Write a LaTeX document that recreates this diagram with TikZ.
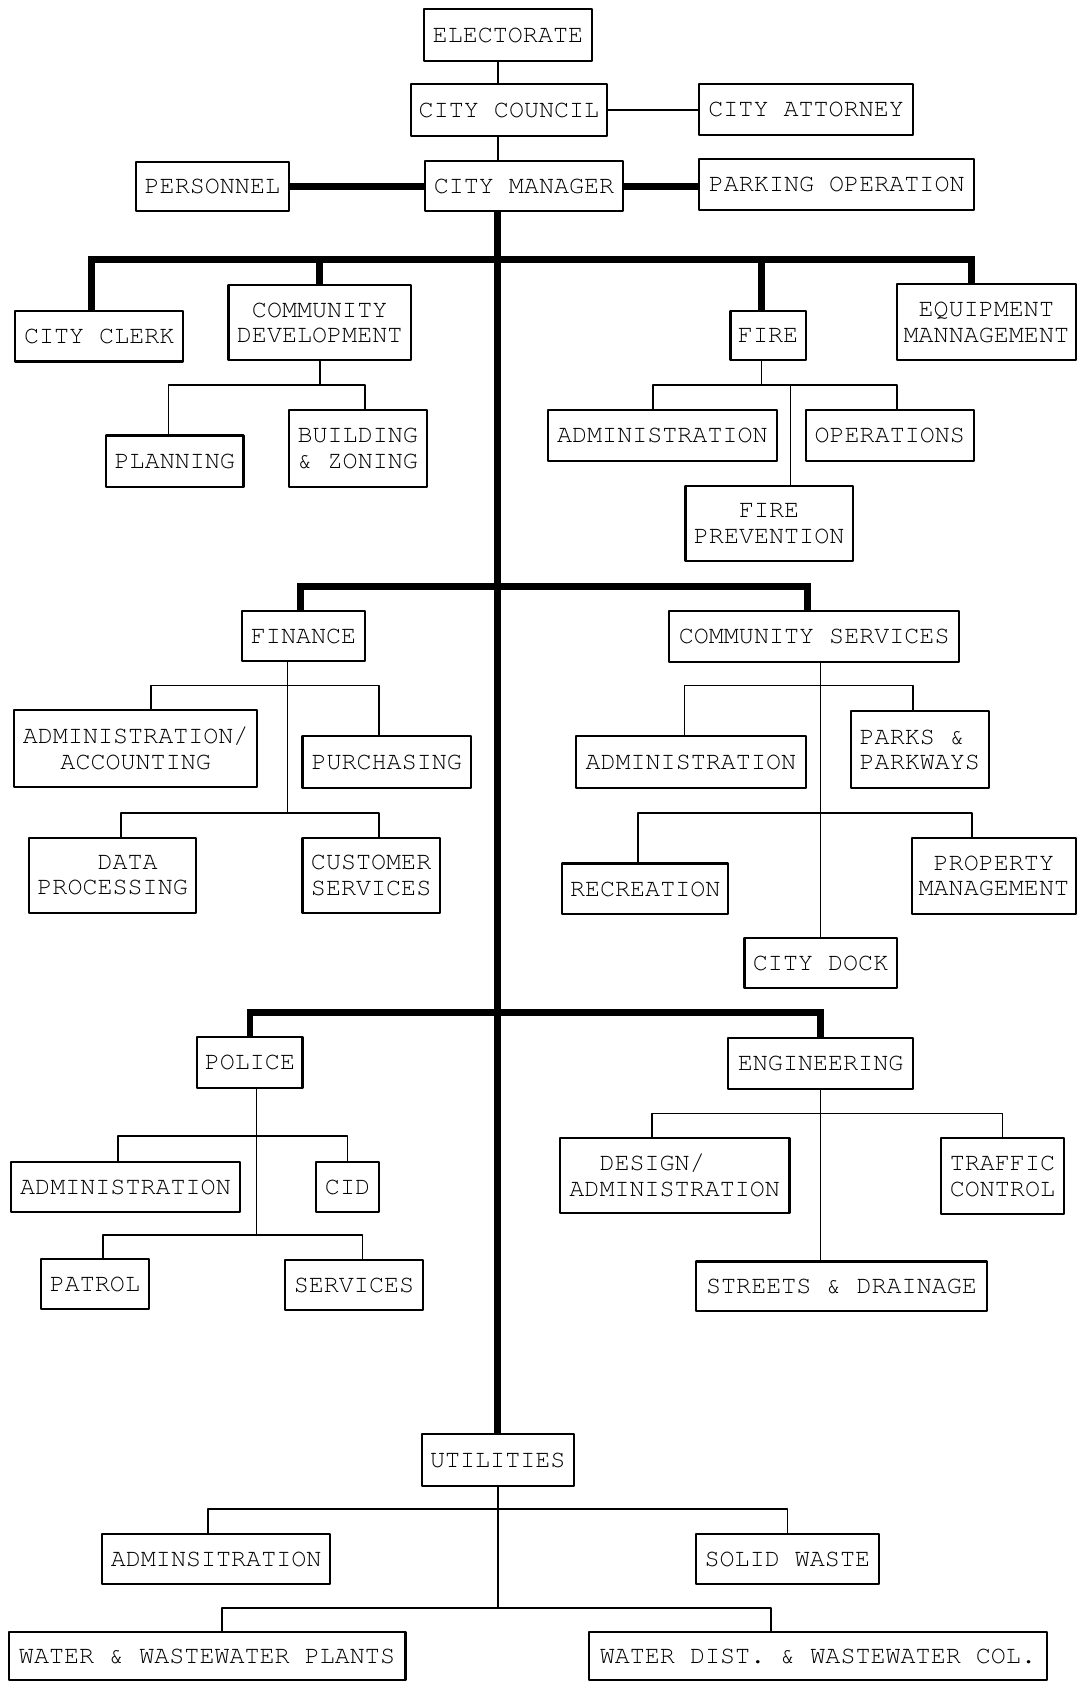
\documentclass[tikz,border=0pt]{standalone}
\usepackage[T1]{fontenc}
\usepackage{courier}

\begin{document}
\begin{tikzpicture}[line cap=round,line join=round,x=1.0cm,y=1.0cm,
  box/.style={draw,line width=1.1pt,inner sep=1pt,align=center,font=\ttfamily\fontsize{13.3}{13.6}\selectfont},
  wh/.style 2 args={minimum width=#1cm,minimum height=#2cm},
  link/.style={line width=0.9pt},
  trunk/.style={line width=3.6pt,line cap=butt,line join=miter}]
      \useasboundingbox (0,0) rectangle (20.1,-31.36);
      \node[box,wh={3.14}{0.98}] (elec) at (9.47,-0.65) {ELECTORATE};
      \node[box,wh={3.66}{0.98}] (council) at (9.49,-2.05) {CITY COUNCIL};
      \node[box,wh={3.98}{0.96}] (atty) at (15.03,-2.04) {CITY ATTORNEY};
      \node[box,wh={2.84}{0.92}] (pers) at (3.96,-3.48) {PERSONNEL};
      \node[box,wh={3.70}{0.94}] (mgr) at (9.77,-3.47) {CITY MANAGER};
      \node[box,wh={5.12}{0.96}] (park) at (15.60,-3.44) {PARKING OPERATION};
      \node[box,wh={3.14}{0.94}] (clerk) at (1.85,-6.27) {CITY CLERK};
      \node[box,wh={3.40}{1.40}] (cdev) at (5.96,-6.02) {COMMUNITY\\DEVELOPMENT};
      \node[box,wh={1.40}{0.92}] (fire) at (14.32,-6.26) {FIRE};
      \node[box,wh={3.34}{1.42}] (equip) at (18.39,-6.01) {EQUIPMENT\\MANNAGEMENT};
      \node[box,wh={2.56}{0.96}] (plan) at (3.26,-8.60) {PLANNING};
      \node[box,wh={2.58}{1.44}] (bldg) at (6.67,-8.36) {BUILDING\\\& ZONING};
      \node[box,wh={4.26}{0.96}] (fadm) at (12.35,-8.12) {ADMINISTRATION};
      \node[box,wh={3.14}{0.96}] (fops) at (16.59,-8.12) {OPERATIONS};
      \node[box,wh={3.12}{1.40}] (fprev) at (14.34,-9.76) {FIRE\\PREVENTION};
      \node[box,wh={2.28}{0.92}] (fin) at (5.66,-11.86) {FINANCE};
      \node[box,wh={5.40}{0.94}] (cserv) at (15.18,-11.87) {COMMUNITY SERVICES};
      \node[box,wh={4.54}{1.44}] (facc) at (2.53,-13.96) {ADMINISTRATION/\\ACCOUNTING};
      \node[box,wh={3.14}{0.98}] (purch) at (7.21,-14.21) {PURCHASING};
      \node[box,wh={3.12}{1.40}] (data) at (2.10,-16.32) {\phantom{XX}DATA\\PROCESSING};
      \node[box,wh={2.56}{1.40}] (cust) at (6.92,-16.32) {CUSTOMER\\SERVICES};
      \node[box,wh={4.28}{0.98}] (csadm) at (12.88,-14.21) {ADMINISTRATION};
      \node[box,wh={2.58}{1.44},align=left] (parks) at (17.15,-13.98) {PARKS \&\\PARKWAYS};
      \node[box,wh={3.10}{0.94}] (rec) at (12.03,-16.57) {RECREATION};
      \node[box,wh={3.06}{1.42}] (prop) at (18.53,-16.33) {PROPERTY\\MANAGEMENT};
      \node[box,wh={2.84}{0.94}] (dock) at (15.30,-17.95) {CITY DOCK};
      \node[box,wh={1.96}{0.94}] (pol) at (4.66,-19.81) {POLICE};
      \node[box,wh={3.44}{0.94}] (eng) at (15.30,-19.83) {ENGINEERING};
      \node[box,wh={4.28}{0.94}] (padm) at (2.34,-22.13) {ADMINISTRATION};
      \node[box,wh={1.16}{0.94}] (cid) at (6.48,-22.13) {CID};
      \node[box,wh={2.02}{0.92}] (patrol) at (1.77,-23.94) {PATROL};
      \node[box,wh={2.56}{0.92}] (psvc) at (6.60,-23.96) {SERVICES};
      \node[box,wh={4.28}{1.40}] (design) at (12.58,-21.92) {DESIGN/\phantom{XXX}\\ADMINISTRATION};
      \node[box,wh={2.30}{1.42}] (traffic) at (18.69,-21.93) {TRAFFIC\\CONTROL};
      \node[box,wh={5.42}{0.92}] (streets) at (15.69,-23.98) {STREETS \& DRAINAGE};
      \node[box,wh={2.84}{0.96}] (util) at (9.28,-27.22) {UTILITIES};
      \node[box,wh={4.26}{0.94}] (uadm) at (4.03,-29.07) {ADMINSITRATION};
      \node[box,wh={3.40}{0.94}] (waste) at (14.68,-29.07) {SOLID WASTE};
      \node[box,wh={7.40}{0.90}] (plants) at (3.86,-30.87) {WATER \& WASTEWATER PLANTS};
      \node[box,wh={8.54}{0.90}] (dist) at (15.25,-30.87) {WATER DIST. \& WASTEWATER COL.};
      \coordinate (b1) at (0,-4.84);
      \coordinate (b2) at (0,-10.94);
      \coordinate (b3) at (0,-18.88);
      \coordinate (bSub1) at (0,-7.18);
      \coordinate (bSub2a) at (0,-12.78);
      \coordinate (bSub2b) at (0,-15.16);
      \coordinate (bEng) at (0,-20.76);
      \coordinate (bPola) at (0,-21.18);
      \coordinate (bPolb) at (0,-23.03);
      \coordinate (bUtila) at (0,-28.14);
      \coordinate (bUtilb) at (0,-29.98);
      \draw[link] (elec.south -| util.north) -- (council.north -| util.north);
      \draw[link] (council.south -| util.north) -- (mgr.north -| util.north);
      \draw[link] (council.east) -- (council.east -| atty.west);
      \draw[trunk] (pers.east) -- (pers.east -| mgr.west);
      \draw[trunk] (mgr.east) -- (mgr.east -| park.west);
      \draw[trunk] (mgr.south -| util.north) -- (util.north);
      \draw[trunk] ([xshift=-0.15cm]clerk.north) |- ([xshift=-0.27cm]equip.north |- b1) -- ([xshift=-0.27cm]equip.north);
      \draw[trunk] (cdev.north) -- (cdev.north |- b1);
      \draw[trunk] ([xshift=-0.12cm]fire.north) -- ([xshift=-0.12cm]fire.north |- b1);
      \draw[trunk] ([xshift=-0.06cm]fin.north) |- ([xshift=-0.12cm]cserv.north |- b2) -- ([xshift=-0.12cm]cserv.north);
      \draw[trunk] (pol.north) |- (eng.north |- b3) -- (eng.north);
      \draw[link] (cdev.south) -- (cdev.south |- bSub1);
      \draw[link] ([xshift=-0.12cm]plan.north) |- ([xshift=0.13cm]bldg.north |- bSub1) -- ([xshift=0.13cm]bldg.north);
      \draw[link] ([xshift=-0.12cm]fire.south) -- ([xshift=-0.12cm]fire.south |- bSub1);
      \draw[link] ([xshift=-0.17cm]fadm.north) |- ([xshift=0.13cm]fops.north |- bSub1) -- ([xshift=0.13cm]fops.north);
      \draw[link] ([xshift=0.40cm]fprev.north) -- ([xshift=0.40cm]fprev.north |- bSub1);
      \draw[link] ([xshift=-0.30cm]fin.south) -- ([xshift=-0.30cm]fin.south |- bSub2b);
      \draw[link] ([xshift=0.29cm]facc.north) |- ([xshift=-0.15cm]purch.north |- bSub2a) -- ([xshift=-0.15cm]purch.north);
      \draw[link] ([xshift=0.16cm]data.north) |- ([xshift=0.14cm]cust.north |- bSub2b) -- ([xshift=0.14cm]cust.north);
      \draw[link] (dock.north |- cserv.south) -- (dock.north);
      \draw[link] ([xshift=-0.12cm]csadm.north) |- ([xshift=-0.13cm]parks.north |- bSub2a) -- ([xshift=-0.13cm]parks.north);
      \draw[link] ([xshift=-0.13cm]rec.north) |- ([xshift=-0.41cm]prop.north |- bSub2b) -- ([xshift=-0.41cm]prop.north);
      \draw[link] ([xshift=0.12cm]pol.south) -- ([xshift=0.12cm]pol.south |- bPolb);
      \draw[link] ([xshift=-0.14cm]padm.north) |- (cid.north |- bPola) -- (cid.north);
      \draw[link] ([xshift=0.15cm]patrol.north) |- ([xshift=0.16cm]psvc.north |- bPolb) -- ([xshift=0.16cm]psvc.north);
      \draw[link] (eng.south) -- (eng.south |- streets.north);
      \draw[link] ([xshift=-0.42cm]design.north) |- (traffic.north |- bEng) -- (traffic.north);
      \draw[link] (util.south) -- (util.south |- bUtilb);
      \draw[link] ([xshift=-0.15cm]uadm.north) |- (waste.north |- bUtila) -- (waste.north);
      \draw[link] ([xshift=0.28cm]plants.north) |- ([xshift=-0.87cm]dist.north |- bUtilb) -- ([xshift=-0.87cm]dist.north);
    \end{tikzpicture}
\end{document}
